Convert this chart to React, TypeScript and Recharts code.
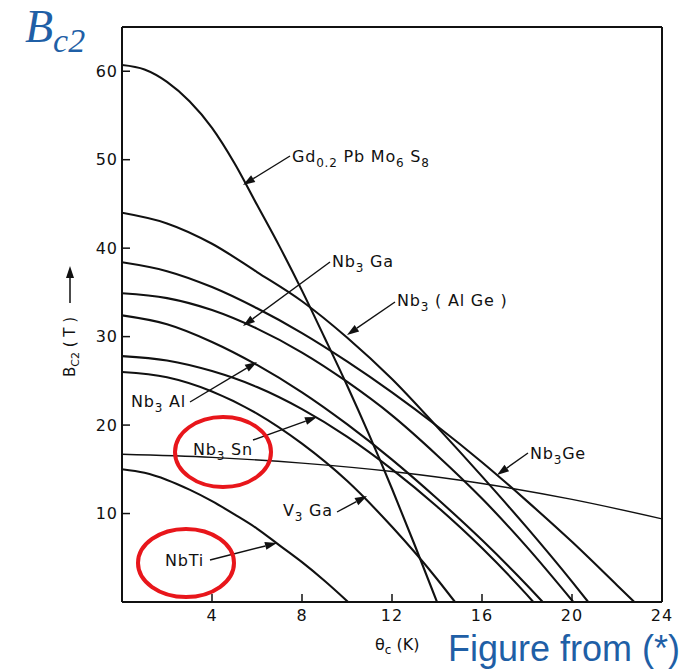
import React from "react";
import { LineChart, Line, XAxis, YAxis } from "recharts";

// Bc2 (T) versus temperature (K) for several superconductors
const TEMP_TICKS = [4, 8, 12, 16, 20, 24];
const FIELD_TICKS = [10, 20, 30, 40, 50, 60];
const RIGHT_TICKS = [10, 20, 30, 40, 50];

const gdT = [0, 1, 2, 3, 4, 5, 6, 7, 8, 9, 10, 11, 12, 13, 14];
const gdB = [60.7, 60.2, 58.8, 56.6, 53.6, 49.6, 44.9, 40.2, 35.2, 29.9, 24.5, 18.8, 12.8, 6.5, 0];

const alGeT = [0, 2, 4, 6, 8, 10, 12, 14, 16, 18, 20, 20.72];
const alGeB = [44.0, 42.8, 40.5, 37.3, 34.0, 29.9, 25.2, 19.8, 14.2, 8.4, 2.3, 0];

const geT = [0, 2, 4, 6, 8, 10, 12, 14, 16, 18, 20, 22, 22.77];
const geB = [38.4, 37.4, 35.6, 33.2, 30.4, 27.2, 23.7, 19.9, 15.8, 11.4, 6.8, 1.9, 0];

const gaT = [0, 2, 4, 6, 8, 10, 12, 14, 16, 18, 20.06];
const gaB = [34.9, 34.35, 33.0, 30.9, 28.2, 24.9, 21.1, 16.6, 11.7, 6.2, 0];

const alT = [0, 2, 4, 6, 8, 10, 12, 14, 16, 18, 18.7];
const alB = [32.4, 31.4, 29.4, 26.8, 23.7, 20.1, 16.1, 11.7, 7.0, 1.9, 0];

const snT = [0, 2, 4, 6, 8, 10, 12, 14, 16, 18, 18.28];
const snB = [27.8, 27.3, 26.1, 24.3, 21.8, 18.7, 15.0, 10.8, 6.1, 0.8, 0];

const v3gaT = [0, 2, 4, 6, 8, 10, 12, 14, 14.8];
const v3gaB = [26.0, 25.4, 23.8, 21.3, 17.9, 13.7, 8.5, 2.6, 0];

const nbtiT = [0, 1, 2, 3, 4, 5, 6, 7, 8, 9, 10.05];
const nbtiB = [15.0, 14.6, 13.8, 12.7, 11.4, 9.9, 8.3, 6.4, 4.5, 2.4, 0];

const flatT = [0, 4, 8, 12, 16, 20, 24];
const flatB = [16.7, 16.35, 15.7, 14.75, 13.4, 11.6, 9.4];

const zip = (t: number[], b: number[]) => t.map((v, i) => ({ t: v, b: b[i] }));

const CURVES = [
  { id: "gd", data: zip(gdT, gdB), w: 2.1 },
  { id: "alge", data: zip(alGeT, alGeB), w: 2.1 },
  { id: "ge", data: zip(geT, geB), w: 2.1 },
  { id: "ga", data: zip(gaT, gaB), w: 2.1 },
  { id: "al", data: zip(alT, alB), w: 2.1 },
  { id: "sn", data: zip(snT, snB), w: 2.1 },
  { id: "v3ga", data: zip(v3gaT, v3gaB), w: 2.1 },
  { id: "nbti", data: zip(nbtiT, nbtiB), w: 2.1 },
  { id: "flat", data: zip(flatT, flatB), w: 1.4 },
];

const INK = "#111";
const BLUE = "#1f5fa6";
const RED = "#e8161b";
const FONT = "'DejaVu Sans', sans-serif";

// annotation arrows, pixel positions [tail, tip]
const ARROWS: [number, number, number, number][] = [
  [290, 156, 243, 185],
  [330, 262, 243, 326],
  [395, 302, 347, 335],
  [190, 402, 257, 362],
  [253, 440, 317, 417],
  [337, 512, 367, 496],
  [210, 560, 277, 543],
  [528, 453, 497, 475],
];

type Part = [string, boolean];
const LABELS: { x: number; y: number; parts: Part[] }[] = [
  { x: 292, y: 162, parts: [["Gd", false], ["0.2", true], [" Pb Mo", false], ["6", true], [" S", false], ["8", true]] },
  { x: 332, y: 267, parts: [["Nb", false], ["3", true], [" Ga", false]] },
  { x: 397, y: 306, parts: [["Nb", false], ["3", true], [" ( Al Ge )", false]] },
  { x: 131, y: 407, parts: [["Nb", false], ["3", true], [" Al", false]] },
  { x: 193, y: 455, parts: [["Nb", false], ["3", true], [" Sn", false]] },
  { x: 283, y: 516, parts: [["V", false], ["3", true], [" Ga", false]] },
  { x: 165, y: 566, parts: [["NbTi", false]] },
  { x: 530, y: 459, parts: [["Nb", false], ["3", true], ["Ge", false]] },
];

function Arrow({ a }: { a: [number, number, number, number] }) {
  const [x1, y1, x2, y2] = a;
  const dx = x2 - x1;
  const dy = y2 - y1;
  const len = Math.hypot(dx, dy);
  const ux = dx / len;
  const uy = dy / len;
  const bx = x2 - ux * 12;
  const by = y2 - uy * 12;
  const px = -uy * 4;
  const py = ux * 4;
  return (
    <g>
      <line x1={x1} y1={y1} x2={bx} y2={by} stroke={INK} strokeWidth={1.4} />
      <polygon points={`${x2},${y2} ${bx + px},${by + py} ${bx - px},${by - py}`} fill={INK} />
    </g>
  );
}

function Label({ x, y, parts }: { x: number; y: number; parts: Part[] }) {
  let shift = 0;
  return (
    <text x={x} y={y} fontFamily={FONT} fontSize={16} letterSpacing={0.8} fill={INK}>
      {parts.map(([s, sub], i) => {
        const dy = sub ? 5 - shift : -shift;
        shift = sub ? 5 : 0;
        return (
          <tspan key={i} dy={dy} fontSize={sub ? 12 : 16} style={{ whiteSpace: "pre" }}>
            {s}
          </tspan>
        );
      })}
    </text>
  );
}

export default function App() {
  const tickStyle = { fill: INK, fontSize: 16, fontFamily: FONT, letterSpacing: 1 };
  return (
    <div style={{ position: "absolute", left: 0, top: 0, width: 687, height: 671, background: "#fff" }}>
      <LineChart
        width={687}
        height={671}
        margin={{ top: 22, right: 20, bottom: 39, left: 82 }}
      >
        <XAxis
          xAxisId="b"
          type="number"
          dataKey="t"
          domain={[0, 24]}
          ticks={TEMP_TICKS}
          height={30}
          tickSize={-8}
          tickMargin={16}
          tick={tickStyle}
          axisLine={{ stroke: INK, strokeWidth: 2 }}
          tickLine={{ stroke: INK, strokeWidth: 1.5 }}
          allowDataOverflow
        />
        <XAxis
          xAxisId="t"
          orientation="top"
          type="number"
          dataKey="t"
          domain={[0, 24]}
          ticks={TEMP_TICKS.slice(0, 5)}
          height={5}
          tickSize={-8}
          tick={false}
          axisLine={{ stroke: INK, strokeWidth: 2 }}
          tickLine={{ stroke: INK, strokeWidth: 1.5 }}
          allowDataOverflow
        />
        <YAxis
          yAxisId="l"
          type="number"
          domain={[0, 65]}
          ticks={FIELD_TICKS}
          width={40}
          tickSize={-8}
          tickMargin={12}
          tick={tickStyle}
          axisLine={{ stroke: INK, strokeWidth: 2 }}
          tickLine={{ stroke: INK, strokeWidth: 1.5 }}
          allowDataOverflow
        />
        <YAxis
          yAxisId="r"
          orientation="right"
          type="number"
          domain={[0, 65]}
          ticks={RIGHT_TICKS}
          width={5}
          tickSize={-8}
          tick={false}
          axisLine={{ stroke: INK, strokeWidth: 2 }}
          tickLine={{ stroke: INK, strokeWidth: 1.5 }}
          allowDataOverflow
        />
        {CURVES.map((c) => (
          <Line
            key={c.id}
            xAxisId="b"
            yAxisId="l"
            data={c.data}
            dataKey="b"
            type="monotone"
            stroke={INK}
            strokeWidth={c.w}
            dot={false}
            activeDot={false}
            isAnimationActive={false}
          />
        ))}
      </LineChart>
      <svg
        width={687}
        height={671}
        style={{ position: "absolute", left: 0, top: 0, pointerEvents: "none" }}
      >
        {ARROWS.map((a, i) => (
          <Arrow key={i} a={a} />
        ))}
        {LABELS.map((l, i) => (
          <Label key={i} {...l} />
        ))}
        <g transform="translate(75,347) rotate(-90)">
          <text x={0} y={0} textAnchor="middle" fontFamily={FONT} fontSize={15} fill={INK} style={{ whiteSpace: "pre" }}>
            B<tspan fontSize={11} dy={4}>C2</tspan>
            <tspan dy={-4}> ( T )</tspan>
          </text>
        </g>
        <line x1={70} y1={303} x2={70} y2={276} stroke={INK} strokeWidth={1.5} />
        <polygon points="70,266 66,278 74,278" fill={INK} />
        <text x={375} y={650} fontFamily={FONT} fontSize={16} fill={INK} style={{ whiteSpace: "pre" }}>
          θ<tspan fontSize={12} dy={4}>c</tspan>
          <tspan dy={-4}> (K)</tspan>
        </text>
        <text x={25} y={42} fontFamily="'Liberation Serif', serif" fontStyle="italic" fontSize={46} fill={BLUE}>
          B<tspan fontSize={34} dy={10}>c2</tspan>
        </text>
        <text x={448} y={661} fontFamily="'Liberation Sans', Arial, sans-serif" fontSize={36} fill={BLUE}>
          Figure from (*)
        </text>
        <ellipse cx={223} cy={452} rx={48} ry={35} fill="none" stroke={RED} strokeWidth={4} />
        <ellipse cx={186} cy={563} rx={48} ry={34} fill="none" stroke={RED} strokeWidth={4} />
      </svg>
    </div>
  );
}
